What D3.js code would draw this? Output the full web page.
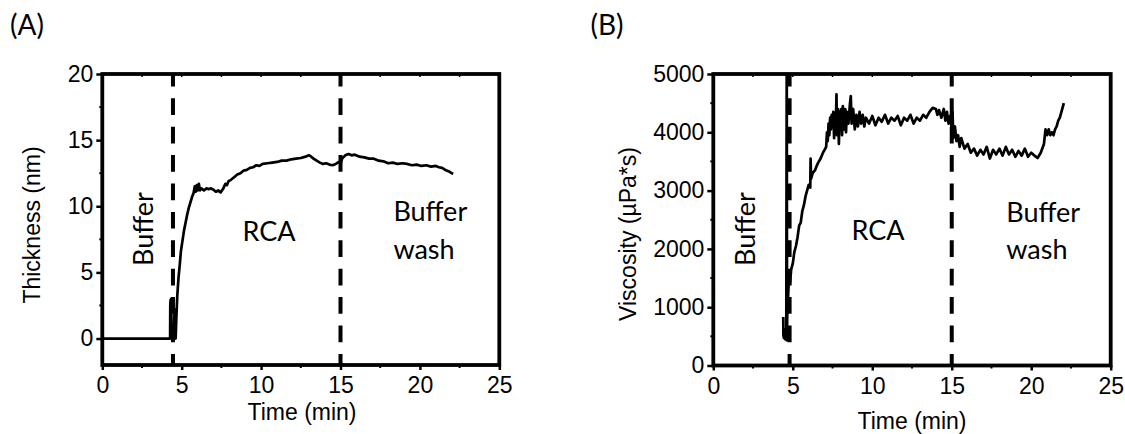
<!DOCTYPE html>
<html><head><meta charset="utf-8">
<script src="https://cdn.jsdelivr.net/npm/d3@7"></script>
<style>body{margin:0;background:#fff;} svg{display:block}</style>
</head><body><svg id="c" width="1125" height="434"></svg>
<script>
// ---------- data ----------
const xTicks = [0, 5, 10, 15, 20, 25];
const xMinorTicks = [2.5, 7.5, 12.5, 17.5, 22.5];
const yTicksA = [0, 5, 10, 15, 20];
const yMinorA = [2.5, 7.5, 12.5, 17.5];
const yTicksB = [0, 1000, 2000, 3000, 4000, 5000];
const yMinorB = [500, 1500, 2500, 3500, 4500];
const phaseLinesA = [4.45, 15];
const phaseLinesB = [4.8, 15];

const timeA = [0,4.27,4.28,4.30,4.32,4.34,4.36,4.40,4.50,4.55,4.58,4.62,4.66,4.72,4.80,4.88,4.95,5.05,5.15,5.25,5.35,5.45,5.55,5.65,5.75,5.82,5.88,5.95,6.02,6.08,6.15,6.25,6.4,6.55,6.7,6.85,7.0,7.15,7.3,7.45,7.6,7.75,7.85,7.95,8.1,8.3,8.5,8.7,8.9,9.1,9.3,9.5,9.7,9.9,10.1,10.4,10.7,11.0,11.3,11.6,11.9,12.2,12.5,12.8,13.0,13.1,13.3,13.5,13.7,13.9,14.1,14.3,14.5,14.7,14.9,15.0,15.1,15.3,15.5,15.7,15.9,16.2,16.5,16.8,17.1,17.4,17.7,18.0,18.3,18.6,18.9,19.2,19.5,19.8,20.1,20.4,20.7,21.0,21.2,21.4,21.6,21.8,22.0,22.1];
const thicknessA = [0,0,2.5,2.9,1.5,3.0,0.3,0,0,2.2,0.2,0,1.5,3.2,4.6,5.6,6.6,7.4,8.2,8.8,9.4,9.9,10.3,10.7,11.0,11.5,11.1,11.6,11.2,11.7,11.2,11.35,11.2,11.35,11.3,11.35,11.25,11.1,11.2,11.05,11.3,11.7,11.6,11.9,12.0,12.2,12.4,12.5,12.7,12.75,12.9,12.95,13.1,13.05,13.2,13.25,13.3,13.35,13.45,13.45,13.55,13.6,13.65,13.75,13.85,13.8,13.6,13.45,13.3,13.2,13.25,13.15,13.1,13.2,13.35,13.2,13.6,13.85,13.95,13.85,13.9,13.75,13.7,13.6,13.6,13.45,13.4,13.25,13.3,13.2,13.25,13.2,13.1,13.15,13.05,13.1,13.0,13.05,12.95,12.9,12.75,12.65,12.5,12.45];

const timeB = [4.40,4.41,4.44,4.47,4.50,4.53,4.56,4.59,4.62,4.64,4.66,4.70,4.75,4.82,4.9,5.0,5.1,5.2,5.3,5.4,5.5,5.6,5.7,5.8,5.9,6.0,6.1,6.12,6.15,6.25,6.4,6.5,6.6,6.75,6.9,7.0,7.1,7.15,7.2,7.25,7.3,7.35,7.4,7.45,7.5,7.55,7.6,7.65,7.7,7.75,7.78,7.85,7.9,7.95,8.0,8.05,8.1,8.15,8.2,8.3,8.35,8.4,8.5,8.6,8.65,8.7,8.8,8.9,9.0,9.1,9.2,9.3,9.4,9.5,9.6,9.8,10.0,10.2,10.4,10.6,10.8,11.0,11.2,11.4,11.6,11.8,12.0,12.2,12.4,12.6,12.8,13.0,13.2,13.4,13.6,13.8,14.0,14.1,14.2,14.35,14.5,14.6,14.7,14.8,14.9,15.0,15.05,15.1,15.2,15.3,15.4,15.5,15.6,15.8,16.0,16.2,16.4,16.6,16.8,17.0,17.2,17.4,17.6,17.8,18.0,18.2,18.4,18.6,18.8,19.0,19.2,19.4,19.6,19.8,20.0,20.2,20.4,20.6,20.8,20.9,21.0,21.1,21.2,21.3,21.4,21.5,21.6,21.7,21.8,21.9,22.0,22.05];
const viscosityB = [830,520,470,560,470,450,620,460,5400,430,1300,1150,1450,1400,1650,1750,1950,2050,2200,2400,2450,2650,2750,2900,3000,3100,3050,3550,3200,3300,3350,3420,3480,3550,3650,3700,3750,4000,3850,4150,3950,4250,4050,4300,4100,4350,3900,4300,4050,4650,3950,4400,3800,4350,4100,4400,3950,4450,4050,4400,4000,4350,4150,4500,4620,4150,4400,4050,4300,4100,4350,4150,4300,4100,4250,4150,4280,4120,4250,4180,4300,4150,4250,4200,4280,4120,4250,4200,4300,4150,4250,4200,4300,4250,4350,4420,4400,4300,4380,4250,4400,4200,4350,4150,4280,4050,4350,3900,4100,3850,3950,3750,3900,3720,3800,3650,3720,3600,3700,3620,3750,3550,3700,3620,3720,3600,3750,3620,3700,3580,3680,3600,3720,3580,3650,3600,3560,3650,3800,4050,3950,4050,3950,4000,3950,4050,4100,4200,4250,4350,4450,4500];

// ---------- drawing ----------
const svg = d3.select("#c");
const tickFont = "'Liberation Sans', Arial, sans-serif";
const noteFont = "Lato, 'Open Sans', sans-serif";

function panel(cfg) {
  const x = d3.scaleLinear().domain([0, 25]).range([cfg.left, cfg.right]);
  const y = d3.scaleLinear().domain(cfg.yDomain).range([cfg.bottom, cfg.top]);
  const g = svg.append("g");
  const id = "clip" + cfg.key;
  svg.append("defs").append("clipPath").attr("id", id)
    .append("rect").attr("x", cfg.left).attr("y", cfg.top)
    .attr("width", cfg.right - cfg.left).attr("height", cfg.bottom - cfg.top);

  // phase (dashed) lines
  g.selectAll("line.phase").data(cfg.phases).enter().append("line")
    .attr("x1", d => x(d)).attr("x2", d => x(d))
    .attr("y1", cfg.top).attr("y2", cfg.bottom)
    .attr("stroke", "#000").attr("stroke-width", 4)
    .attr("stroke-dasharray", "16.7 11.7").attr("stroke-dashoffset", 4.1);

  // data line
  const pts = cfg.xs.map((t, i) => [t, cfg.ys[i]]);
  g.append("path").datum(pts)
    .attr("clip-path", `url(#${id})`)
    .attr("fill", "none").attr("stroke", "#000").attr("stroke-width", 2.7)
    .attr("stroke-linejoin", "round")
    .attr("d", d3.line().x(d => x(d[0])).y(d => y(d[1])));

  // bottom axis
  const xa = g.append("g").attr("transform", `translate(0,${cfg.bottom})`)
    .call(d3.axisBottom(x).tickValues(xTicks).tickSize(5).tickPadding(7).tickFormat(d3.format("d")));
  xa.select(".domain").remove();
  xa.selectAll("line").attr("stroke-width", 2.5);
  xa.selectAll("text").attr("font-family", tickFont).attr("font-size", 23).attr("fill", "#000");
  g.selectAll("line.xminor").data(xMinorTicks).enter().append("line")
    .attr("x1", d => x(d)).attr("x2", d => x(d))
    .attr("y1", cfg.bottom).attr("y2", cfg.bottom + 3)
    .attr("stroke", "#000").attr("stroke-width", 2);
  // top mirror ticks
  g.selectAll("line.xtop").data(xTicks.concat(xMinorTicks)).enter().append("line")
    .attr("x1", d => x(d)).attr("x2", d => x(d))
    .attr("y1", cfg.top).attr("y2", cfg.top + 3)
    .attr("stroke", "#000").attr("stroke-width", 1.5);

  // left axis
  const ya = g.append("g").attr("transform", `translate(${cfg.left},0)`)
    .call(d3.axisLeft(y).tickValues(cfg.yTicks).tickSize(6).tickPadding(3).tickFormat(d3.format("d")));
  ya.select(".domain").remove();
  ya.selectAll("line").attr("stroke-width", 2.5);
  ya.selectAll("text").attr("font-family", tickFont).attr("font-size", 23).attr("fill", "#000");
  g.selectAll("line.yminor").data(cfg.yMinor).enter().append("line")
    .attr("x1", cfg.left).attr("x2", cfg.left - 3)
    .attr("y1", d => y(d)).attr("y2", d => y(d))
    .attr("stroke", "#000").attr("stroke-width", 2);

  // frame
  g.append("rect").attr("x", cfg.left).attr("y", cfg.top)
    .attr("width", cfg.right - cfg.left).attr("height", cfg.bottom - cfg.top)
    .attr("fill", "none").attr("stroke", "#000").attr("stroke-width", 3.8);

  // axis titles
  g.append("text").attr("x", cfg.xTitleX).attr("y", cfg.xTitleY)
    .attr("text-anchor", "middle").attr("font-family", tickFont).attr("font-size", 23)
    .text("Time (min)");
  g.append("text").attr("transform", `translate(${cfg.yTitleX},${cfg.yTitleY}) rotate(-90)`)
    .attr("text-anchor", "middle").attr("font-family", tickFont).attr("font-size", 23)
    .text(cfg.yTitle);

  // annotations
  const note = (tx, ty, str, anchor, rot) => {
    const t = g.append("text").attr("font-family", noteFont).attr("font-size", 27)
      .attr("text-anchor", anchor).attr("fill", "#000").text(str);
    if (rot) t.attr("transform", `translate(${x(tx)},${y(ty)}) rotate(-90)`);
    else t.attr("x", x(tx)).attr("y", y(ty));
  };
  cfg.notes.forEach(n => note(n[0], n[1], n[2], n[3], n[4]));

  // panel label
  g.append("text").attr("x", cfg.labelX).attr("y", 35)
    .attr("font-family", noteFont).attr("font-size", 28).text(cfg.label);
}

panel({
  key: "A", left: 102.3, right: 499.3, top: 74, bottom: 365,
  yDomain: [-2, 20], yTicks: yTicksA, yMinor: yMinorA,
  xs: timeA, ys: thicknessA, phases: phaseLinesA,
  xTitleX: 302, xTitleY: 420, yTitleX: 40, yTitleY: 225, yTitle: "Thickness (nm)",
  label: "(A)", labelX: 10,
  notes: [[3.2, 8.28, "Buffer", "middle", true], [10.5, 7.4, "RCA", "middle", false],
          [18.33, 8.88, "Buffer", "start", false], [18.33, 6.01, "wash", "start", false]]
});
panel({
  key: "B", left: 713.3, right: 1110.7, top: 74, bottom: 365.5,
  yDomain: [0, 5000], yTicks: yTicksB, yMinor: yMinorB,
  xs: timeB, ys: viscosityB, phases: phaseLinesB,
  xTitleX: 912, xTitleY: 428.5, yTitleX: 636, yTitleY: 234, yTitle: "Viscosity (\u00B5Pa*s)",
  label: "(B)", labelX: 590.5,
  notes: [[2.62, 2341, "Buffer", "middle", true], [10.37, 2153, "RCA", "middle", false],
          [18.43, 2461, "Buffer", "start", false], [18.43, 1827, "wash", "start", false]]
});
</script></body></html>
